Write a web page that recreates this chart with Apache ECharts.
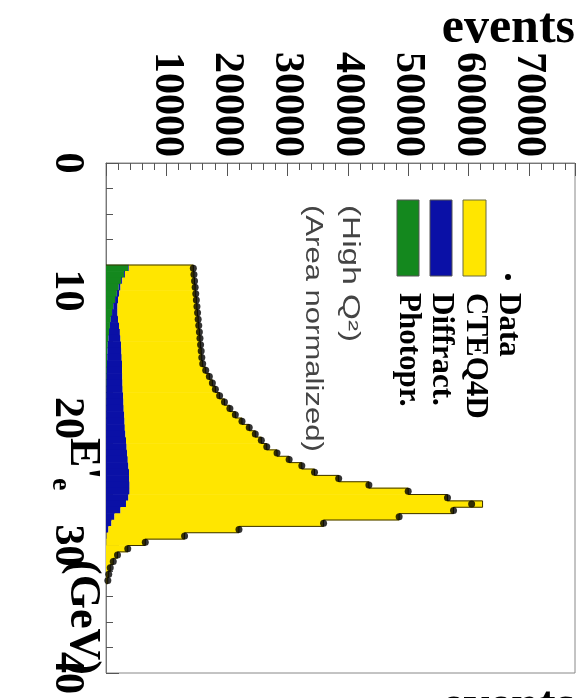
<!DOCTYPE html>
<html>
<head>
<meta charset="utf-8">
<script src="https://cdn.jsdelivr.net/npm/echarts@6/dist/echarts.min.js"></script>
<style>
html,body{margin:0;padding:0;background:#fff;}
#c{width:582px;height:698px;}
</style>
</head>
<body>
<div id="c"></div>
<script>
// Bin centres of E'_e (GeV), bin width 0.5 GeV
const binCenters = [8.25,8.75,9.25,9.75,10.25,10.75,11.25,11.75,12.25,12.75,13.25,13.75,14.25,14.75,15.25,15.75,16.25,16.75,17.25,17.75,18.25,18.75,19.25,19.75,20.25,20.75,21.25,21.75,22.25,22.75,23.25,23.75,24.25,24.75,25.25,25.75,26.25,26.75,27.25,27.75,28.25,28.75,29.25,29.75,30.25,30.75,31.25,31.75,32.25,32.75];
const photoprValues = [3700,3000,2500,2100,1800,1500,1200,1000,800,650,500,400,300,250,200,150,120,100,80,60,50,40,30,25,20,15,10,10,10,10,5,5,5,5,5,5,5,5,0,0,0,0,0,0,0,0,0,0,0,0];
const diffractValues = [100,150,200,300,400,500,700,900,1200,1500,1800,2000,2200,2300,2400,2500,2550,2600,2650,2700,2800,2850,2900,3000,3050,3100,3200,3300,3400,3500,3600,3700,3800,3850,3900,3900,3700,3300,2400,1400,900,400,100,50,0,0,0,0,0,0];
const cteqValues = [10650,11400,11950,12350,12650,12950,13150,13250,13250,13200,13150,13150,13150,13200,13250,13350,13830,14400,14870,15340,15950,16710,17570,18375,19430,20585,21490,22390,23190,24790,26695,28695,30695,34645,39595,46095,52795,59000,55100,47100,35100,21600,12900,6450,3600,1900,1200,700,450,300];
const dataValues = [14450,14550,14650,14750,14850,14950,15050,15150,15250,15350,15450,15550,15650,15750,15850,16000,16500,17100,17600,18100,18800,19600,20500,21400,22500,23700,24700,25700,26600,28300,30300,32400,34500,38500,43500,50000,56500,60500,57500,48500,36000,22000,13000,6500,3600,1900,1200,700,450,300];
const eventTickLabels = ['10000','20000','30000','40000','50000','60000','70000'];
const energyTickLabels = ['0','10','20','30','40'];
const legendNames = ['Data','CTEQ4D','Diffract.','Photopr.'];

const HALF = 0.25;
const colors = {cteq:'#FFE600', diff:'#0A10A6', photo:'#14881E'};

const layer = (vals, bases) => binCenters.map((e,i)=>[e, bases[i], bases[i]+vals[i]]);
const base0 = binCenters.map(()=>0);
const base1 = photoprValues.slice();
const base2 = photoprValues.map((v,i)=>v+diffractValues[i]);
const stackTop = base2.map((v,i)=>v+cteqValues[i]);

function rectItem(color){
  return function(params, api){
    const e = api.value(0), lo = api.value(1), hi = api.value(2);
    if (hi <= lo) return null;
    const p1 = api.coord([lo, e - HALF]);
    const p2 = api.coord([hi, e + HALF]);
    return {type:'rect', shape:{x:Math.min(p1[0],p2[0]), y:Math.min(p1[1],p2[1])-0.3, width:Math.abs(p2[0]-p1[0]), height:Math.abs(p2[1]-p1[1])+0.6}, style:{fill:color}};
  };
}
const outlineData = binCenters.map((e,i)=>[e, stackTop[i], i+1<binCenters.length ? stackTop[i+1] : 0, i===0 ? 1 : 0]);
function outlineItem(params, api){
  const e = api.value(0), v = api.value(1), nv = api.value(2), first = api.value(3);
  const pts = [];
  if (first) pts.push(api.coord([0, e-HALF]));
  pts.push(api.coord([v, e-HALF]));
  pts.push(api.coord([v, e+HALF]));
  pts.push(api.coord([nv, e+HALF]));
  return {type:'polyline', shape:{points:pts}, style:{stroke:'#3a3000', lineWidth:1, fill:null}};
}

const serif = '"Liberation Serif", "DejaVu Serif", serif';
const sans = '"Liberation Sans", Arial, sans-serif';
const R = -Math.PI/2;

const chart = echarts.init(document.getElementById('c'));
chart.setOption({
  animation:false,
  backgroundColor:'#fff',
  grid:{left:106, top:163, right:7, bottom:25, show:true, borderColor:'#888', borderWidth:1, backgroundColor:'transparent'},
  xAxis:{
    type:'value', position:'top', min:0, max:77600, interval:10000,
    axisLine:{show:true, lineStyle:{color:'#777', width:1}},
    axisTick:{show:true, inside:true, length:13, lineStyle:{color:'#555'}},
    minorTick:{show:true, splitNumber:5, length:7, lineStyle:{color:'#555'}},
    splitLine:{show:false},
    axisLabel:{rotate:-90, margin:6, fontFamily:serif, fontWeight:'bold', fontSize:42, color:'#000', showMaxLabel:false, showMinLabel:false,
      formatter:(v)=>{const k=Math.round(v/10000)-1; return (v%10000===0 && k>=0 && k<eventTickLabels.length) ? eventTickLabels[k] : '';}}
  },
  yAxis:{
    type:'value', inverse:true, min:0, max:40, interval:10,
    axisLine:{show:true, lineStyle:{color:'#777', width:1}},
    axisTick:{show:true, inside:true, length:13, lineStyle:{color:'#555'}},
    minorTick:{show:true, splitNumber:5, length:7, lineStyle:{color:'#555'}},
    splitLine:{show:false},
    axisLabel:{rotate:-90, margin:18, fontFamily:serif, fontWeight:'bold', fontSize:42, color:'#000',
      formatter:(v)=>{const k=Math.round(v/10); return energyTickLabels[k] || '';}}
  },
  series:[
    {type:'custom', name:'Photopr.', renderItem:rectItem(colors.photo), data:layer(photoprValues, base0), encode:{x:[1,2], y:0}, z:2},
    {type:'custom', name:'Diffract.', renderItem:rectItem(colors.diff), data:layer(diffractValues, base1), encode:{x:[1,2], y:0}, z:2},
    {type:'custom', name:'CTEQ4D', renderItem:rectItem(colors.cteq), data:layer(cteqValues, base2), encode:{x:[1,2], y:0}, z:2},
    {type:'custom', name:'outline', renderItem:outlineItem, data:outlineData, encode:{x:[1,2], y:0}, z:3},
    {type:'scatter', name:'Data', data:binCenters.map((e,i)=>[dataValues[i], e]), symbol:'circle', symbolSize:7, itemStyle:{color:'#000'}, z:4}
  ],
  graphic:[
    {type:'rect', shape:{x:463, y:200, width:23, height:76}, style:{fill:colors.cteq, stroke:'#6a6a40', lineWidth:1}, z:10},
    {type:'rect', shape:{x:430, y:200, width:22, height:76}, style:{fill:colors.diff, stroke:'#555', lineWidth:1}, z:10},
    {type:'rect', shape:{x:397, y:200, width:22, height:76}, style:{fill:colors.photo, stroke:'#555', lineWidth:1}, z:10},
    {type:'circle', shape:{cx:508, cy:277, r:3}, style:{fill:'#000'}, z:10},
    {type:'text', x:508, y:293, rotation:R, style:{text:legendNames[0], font:'bold 31px '+serif, fill:'#000', textAlign:'left', textVerticalAlign:'middle'}, z:10},
    {type:'text', x:475, y:293, rotation:R, style:{text:legendNames[1], font:'bold 31px '+serif, fill:'#000', textAlign:'left', textVerticalAlign:'middle'}, z:10},
    {type:'text', x:441, y:293, rotation:R, style:{text:legendNames[2], font:'bold 31px '+serif, fill:'#000', textAlign:'left', textVerticalAlign:'middle'}, z:10},
    {type:'text', x:408, y:293, rotation:R, style:{text:legendNames[3], font:'bold 31px '+serif, fill:'#000', textAlign:'left', textVerticalAlign:'middle'}, z:10},
    {type:'text', x:349, y:205, rotation:R, scaleX:1.45, style:{text:'(High Q²)', font:'23px '+sans, fill:'#444', textAlign:'left', textVerticalAlign:'middle'}, z:10},
    {type:'text', x:312, y:205, rotation:R, scaleX:1.35, style:{text:'(Area normalized)', font:'23px '+sans, fill:'#444', textAlign:'left', textVerticalAlign:'middle'}, z:10},
    {type:'text', x:82, y:438, rotation:R, style:{text:"E'", font:'bold 44px '+serif, fill:'#000', textAlign:'left', textVerticalAlign:'middle'}, z:10},
    {type:'text', x:60, y:478, rotation:R, style:{text:'e', font:'bold 28px '+serif, fill:'#000', textAlign:'left', textVerticalAlign:'middle'}, z:10},
    {type:'text', x:82, y:560, rotation:R, style:{text:'(GeV)', font:'bold 44px '+serif, fill:'#000', textAlign:'left', textVerticalAlign:'middle'}, z:10},
    {type:'text', x:575, y:54, style:{text:'events', font:'bold 50px '+serif, fill:'#000', textAlign:'right', textVerticalAlign:'bottom'}, z:10},
    {type:'text', x:575, y:732, style:{text:'events', font:'bold 50px '+serif, fill:'#000', textAlign:'right', textVerticalAlign:'bottom'}, z:10}
  ]
});
</script>
</body>
</html>
